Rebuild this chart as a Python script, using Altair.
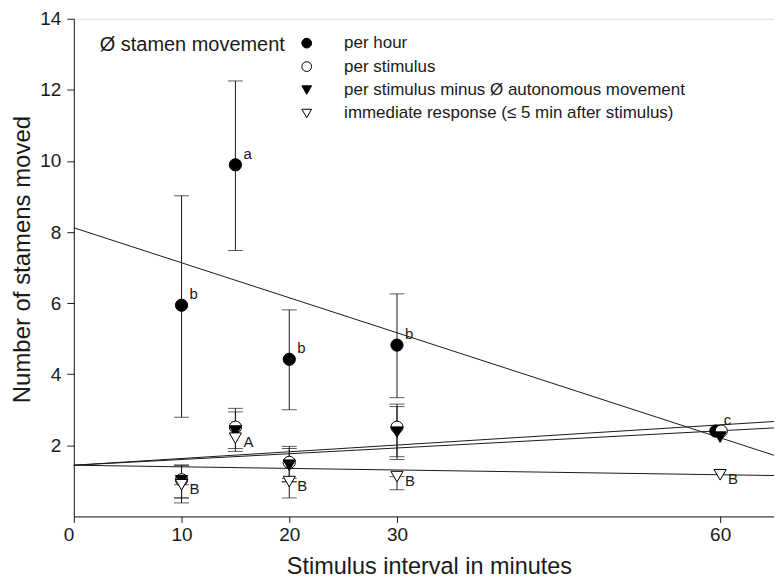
import altair as alt
import pandas as pd

# ---- data ----
series_names = ["per hour", "per stimulus",
                "per stimulus minus Ø autonomous movement",
                "immediate response (≤ 5 min after stimulus)"]

x_per_hour = [10, 15, 20, 30, 59.6]
per_hour = [5.94, 9.89, 4.42, 4.82, 2.40]
per_hour_lo = [2.79, 7.48, 3.00, 3.34, None]
per_hour_hi = [9.02, 12.25, 5.81, 6.26, None]
per_hour_letters = ["b", "a", "b", "b", "c"]

x_per_stim = [10, 15, 20, 30, 60.1]
per_stim = [1.03, 2.51, 1.52, 2.51, 2.40]
per_stim_lo = [0.52, 1.91, 1.07, 1.68, None]
per_stim_hi = [1.45, 3.04, 1.97, 3.16, None]

x_minus = [10, 15, 20, 30, 60]
minus = [1.00, 2.40, 1.44, 2.37, 2.23]
minus_lo = [0.52, 1.83, 0.97, 1.60, None]
minus_hi = [1.43, 2.94, 1.91, 3.09, None]

x_imm = [10, 15, 20, 30, 60]
immediate = [0.89, 2.20, 0.98, 1.12, 1.17]
imm_lo = [0.38, None, 0.52, 0.75, None]
imm_hi = [0.89, None, 0.98, 1.12, None]
imm_letters = ["B", "A", "B", "B", "B"]

# regression lines: value at x = 0 and at x = 65
line_x = [0, 65]
line_start = [8.12, 1.44, 1.44, 1.44]
line_end = [1.72, 2.67, 2.49, 1.15]

x_ticks = [0, 10, 20, 30, 60]
y_ticks = [2, 4, 6, 8, 10, 12, 14]

FONT = "Liberation Sans"
INK = "#1a1a1a"

# ---- tables ----
pts, errs = [], []
for name, xs_, ys_, lo, hi in [
    (series_names[0], x_per_hour, per_hour, per_hour_lo, per_hour_hi),
    (series_names[1], x_per_stim, per_stim, per_stim_lo, per_stim_hi),
    (series_names[2], x_minus, minus, minus_lo, minus_hi),
    (series_names[3], x_imm, immediate, imm_lo, imm_hi),
]:
    for i in range(len(xs_)):
        pts.append({"series": name, "x": xs_[i], "y": ys_[i], "order": len(pts)})
        if lo[i] is not None:
            errs.append({"series": name, "x": xs_[i], "lo": lo[i], "hi": hi[i]})
pts_df = pd.DataFrame(pts)
err_df = pd.DataFrame(errs)
err_long = pd.concat([
    err_df[["x", "lo"]].rename(columns={"lo": "v"}),
    err_df[["x", "hi"]].rename(columns={"hi": "v"}),
])

lines = []
for k in range(len(line_start)):
    lines.append({"line": k, "x": line_x[0], "y": line_start[k]})
    lines.append({"line": k, "x": line_x[1], "y": line_end[k]})
lines_df = pd.DataFrame(lines)

lower_df = pd.DataFrame({"x": x_per_hour, "y": per_hour, "t": per_hour_letters})
upper_df = pd.DataFrame({"x": x_imm, "y": immediate, "t": imm_letters})

xs = alt.Scale(domain=[0, 65], nice=False, zero=False)
ys = alt.Scale(domain=[0, 14], nice=False)

x_axis = alt.Axis(values=x_ticks, title="Stimulus interval in minutes", grid=False,
                  tickSize=6, labelPadding=3, labelFontSize=19, labelFont=FONT,
                  labelColor=INK, titleFontSize=23.5, titleFont=FONT, titleFontWeight="normal",
                  titleColor=INK, domainColor=INK, tickColor=INK,
                  labelAlign={"condition": {"test": "datum.value === 0", "value": "right"},
                              "value": "center"},
                  titleX=356, titleY=57, titleBaseline="alphabetic", titleAnchor="middle",
                  titleAlign="center")
y_axis = alt.Axis(values=y_ticks, title="Number of stamens moved", grid=False,
                  tickSize=7, labelPadding=6, labelFontSize=19, labelFont=FONT,
                  labelColor=INK, titleFontSize=24, titleFont=FONT, titleFontWeight="normal",
                  titleColor=INK, domainColor=INK, tickColor=INK,
                  titleX=-44, titleY=241, titleAngle=270, titleBaseline="alphabetic",
                  titleAlign="center")

X = alt.X("x:Q", scale=xs, axis=x_axis)
Y = alt.Y("y:Q", scale=ys, axis=y_axis)

reg = alt.Chart(lines_df).mark_line(color=INK, strokeWidth=1).encode(
    x=X, y=Y, detail="line:N")

rules = alt.Chart(err_df).mark_rule(color=INK, strokeWidth=1).encode(
    x=alt.X("x:Q", scale=xs), y=alt.Y("lo:Q", scale=ys), y2="hi:Q")
caps = alt.Chart(err_long).mark_tick(color=INK, orient="horizontal", size=15,
                                     thickness=1).encode(
    x=alt.X("x:Q", scale=xs), y=alt.Y("v:Q", scale=ys))

legend = alt.Legend(title="Ø stamen movement", orient="none", legendX=26, legendY=16,
                    titleOrient="left", titleAnchor="start",
                    titleBaseline="top", titleAlign="left", titleLimit=400,
                    titleFontSize=20, titleFont=FONT, titleFontWeight="normal",
                    titleColor=INK, titlePadding=13, labelFont=FONT, labelFontSize=17,
                    labelColor=INK, labelOffset=29, symbolSize=95,
                    symbolStrokeWidth=1, rowPadding=5.5, padding=0, labelLimit=600)

points = alt.Chart(pts_df).mark_point(filled=True, size=150, strokeWidth=1,
                                      opacity=1).encode(
    x=alt.X("x:Q", scale=xs),
    y=alt.Y("y:Q", scale=ys),
    shape=alt.Shape("series:N", scale=alt.Scale(
        domain=series_names,
        range=["circle", "circle", "triangle-down", "triangle-down"]), legend=legend),
    fill=alt.Fill("series:N", scale=alt.Scale(
        domain=series_names, range=["black", "white", "black", "white"]), legend=legend),
    stroke=alt.Stroke("series:N", scale=alt.Scale(
        domain=series_names, range=["black", "black", "black", "black"]), legend=legend),
    order="order:Q",
)

lower_txt = alt.Chart(lower_df).mark_text(align="left", baseline="middle", dx=8, dy=-11,
                                          fontSize=15, font=FONT, color=INK).encode(
    x=alt.X("x:Q", scale=xs), y=alt.Y("y:Q", scale=ys), text="t:N")
upper_txt = alt.Chart(upper_df).mark_text(align="left", baseline="middle", dx=8, dy=4,
                                          fontSize=15, font=FONT, color=INK).encode(
    x=alt.X("x:Q", scale=xs), y=alt.Y("y:Q", scale=ys), text="t:N")

chart = alt.layer(reg, rules, caps, points, lower_txt, upper_txt).properties(
    width=702, height=499,
    padding={"left": 66, "top": 10, "right": 0, "bottom": 64},
    autosize=alt.AutoSizeParams(type="none"),
).configure_view(stroke=INK, strokeWidth=1).configure(background="white")

chart.save("out.html", embed_options={"renderer": "svg", "actions": False})
